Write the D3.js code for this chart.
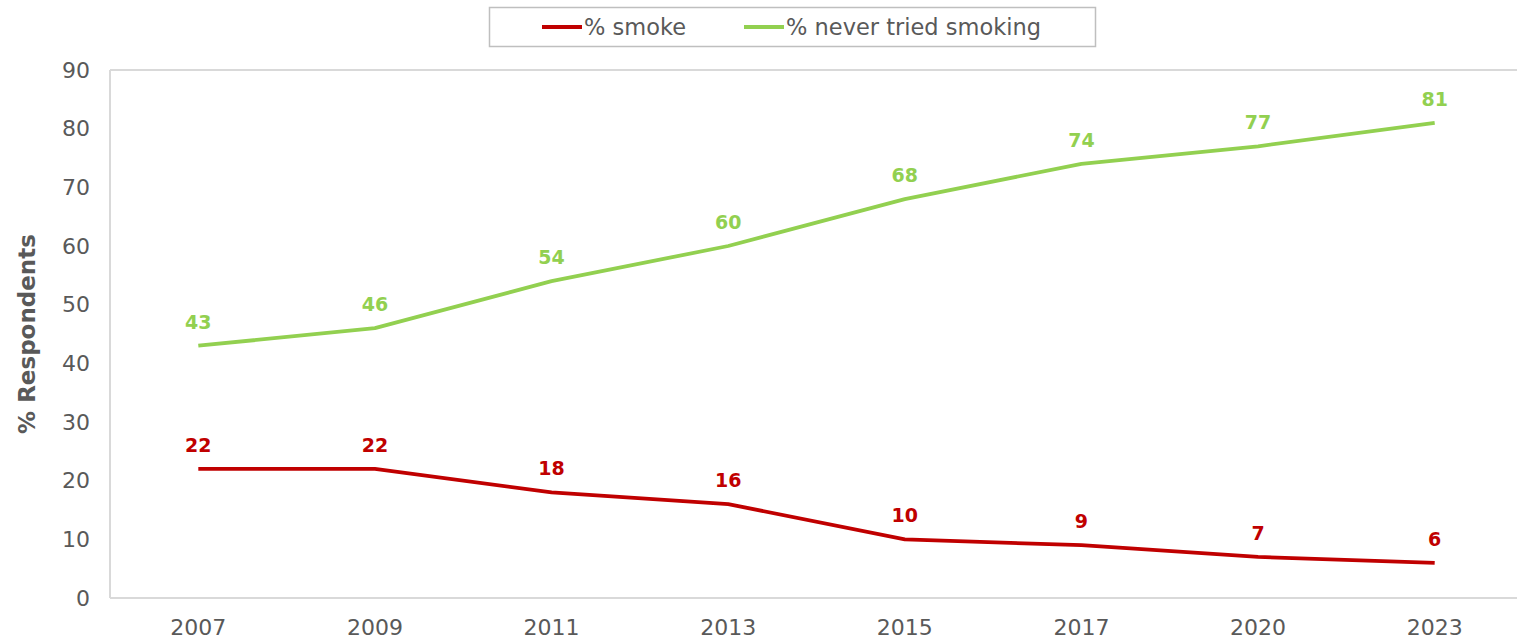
<!DOCTYPE html>
<html>
<head>
<meta charset="utf-8">
<script src="https://cdn.jsdelivr.net/npm/d3@7/dist/d3.min.js"></script>
<style>
  html, body { margin: 0; padding: 0; background: #fff; }
  svg { display: block; font-family: "DejaVu Sans", Verdana, sans-serif; }
</style>
</head>
<body>
<svg id="chart" width="1517" height="642"></svg>
<script>
// Survey years and the two tracked shares
const years = ["2007", "2009", "2011", "2013", "2015", "2017", "2020", "2023"];
const smoke = [22, 22, 18, 16, 10, 9, 7, 6];
const neverTried = [43, 46, 54, 60, 68, 74, 77, 81];
const yTicks = [0, 10, 20, 30, 40, 50, 60, 70, 80, 90];

const seriesList = [
  { name: "% smoke", values: smoke, color: "#C00000" },
  { name: "% never tried smoking", values: neverTried, color: "#92D050" }
];

const svg = d3.select("#chart");
const plot = { left: 110, right: 1523, top: 70, bottom: 598 };

const x = d3.scaleBand().domain(years).range([plot.left, plot.right]);
const y = d3.scaleLinear().domain([0, 90]).range([plot.bottom, plot.top]);
const cx = d => x(d) + x.bandwidth() / 2;

// Plot frame
const frame = "#d9d9d9";
svg.append("line").attr("x1", plot.left).attr("x2", plot.left)
  .attr("y1", plot.top).attr("y2", plot.bottom)
  .attr("stroke", frame).attr("stroke-width", 2);
svg.append("line").attr("x1", plot.left).attr("x2", 1517)
  .attr("y1", plot.top).attr("y2", plot.top)
  .attr("stroke", frame).attr("stroke-width", 2);
svg.append("line").attr("x1", plot.left).attr("x2", 1517)
  .attr("y1", plot.bottom).attr("y2", plot.bottom)
  .attr("stroke", frame).attr("stroke-width", 2);

// Y axis labels
const yAxis = d3.axisLeft(y).tickValues(yTicks).tickSize(0).tickPadding(20);
const gy = svg.append("g").attr("transform", `translate(${plot.left},0)`).call(yAxis);
gy.select(".domain").remove();
gy.selectAll("text").attr("fill", "#595959")
  .style("font-size", "22px").style("font-family", "DejaVu Sans, Verdana, sans-serif");

// X axis labels
const xAxis = d3.axisBottom(x).tickSize(0).tickPadding(21);
const gx = svg.append("g").attr("transform", `translate(0,${plot.bottom})`).call(xAxis);
gx.select(".domain").remove();
gx.selectAll("text").attr("fill", "#595959")
  .style("font-size", "22px").style("font-family", "DejaVu Sans, Verdana, sans-serif");

// Y axis title
svg.append("text")
  .attr("transform", `translate(35,334) rotate(-90)`)
  .attr("text-anchor", "middle")
  .attr("fill", "#595959")
  .style("font-size", "23px").style("font-weight", "bold")
  .text("% Respondents");

// Lines and value labels
const line = d3.line().x((d, i) => cx(years[i])).y(d => y(d));
seriesList.forEach(s => {
  svg.append("path").datum(s.values)
    .attr("d", line).attr("fill", "none")
    .attr("stroke", s.color).attr("stroke-width", 3.8)
    .attr("stroke-linejoin", "round");
  svg.append("g").selectAll("text").data(s.values).join("text")
    .attr("x", (d, i) => cx(years[i]))
    .attr("y", d => y(d) - 17)
    .attr("text-anchor", "middle")
    .attr("fill", s.color)
    .style("font-size", "19px").style("font-weight", "bold")
    .text(d => d);
});

// Legend
const lg = svg.append("g");
lg.append("rect").attr("x", 489.5).attr("y", 7.5).attr("width", 606).attr("height", 39)
  .attr("fill", "#fff").attr("stroke", "#bfbfbf").attr("stroke-width", 1.5);
const legendPos = [542, 744];
seriesList.forEach((s, i) => {
  const lx = legendPos[i];
  lg.append("line").attr("x1", lx).attr("x2", lx + 40).attr("y1", 27).attr("y2", 27)
    .attr("stroke", s.color).attr("stroke-width", 3.8);
  lg.append("text").attr("x", lx + 42).attr("y", 27).attr("dy", "0.35em")
    .attr("fill", "#595959").style("font-size", "22.5px").text(s.name);
});
</script>
</body>
</html>
